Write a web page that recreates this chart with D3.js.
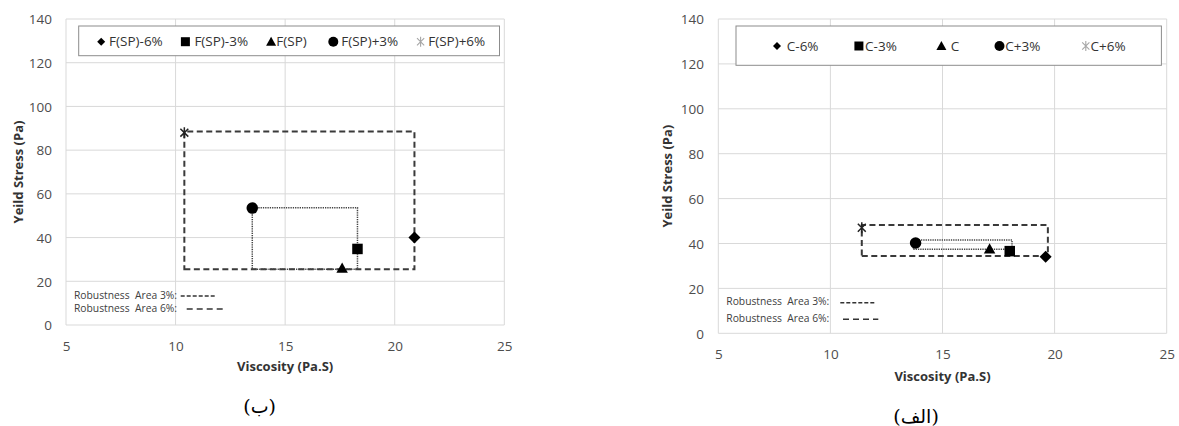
<!DOCTYPE html>
<html><head><meta charset="utf-8">
<script src="https://cdn.jsdelivr.net/npm/d3@7"></script>
<style>body{margin:0;background:#fff} svg{display:block}</style>
</head><body><svg id="c" width="1179" height="426"></svg>
<script>
// ---------- data ----------
const xTicks = [5, 10, 15, 20, 25];
const yTicks = [0, 20, 40, 60, 80, 100, 120, 140];

// chart (ب)
const namesB = ["F(SP)-6%", "F(SP)-3%", "F(SP)", "F(SP)+3%", "F(SP)+6%"];
const viscB  = [20.9, 18.3, 17.6, 13.5, 10.4];
const yieldB = [40, 34.8, 26, 53.5, 88];
const area3B = [13.5, 18.3, 25.5, 53.6];   // [xmin, xmax, ymin, ymax]
const area6B = [10.4, 20.9, 25.5, 88.5];

// chart (الف)
const namesA = ["C-6%", "C-3%", "C", "C+3%", "C+6%"];
const viscA  = [19.6, 18.0, 17.1, 13.8, 11.4];
const yieldA = [34.1, 36.6, 37.6, 40.2, 47];
const area3A = [13.7, 18.1, 37.4, 41.6];
const area6A = [11.4, 19.7, 34.4, 48.2];

const markerTypes = ["diamond", "square", "triangle", "circle", "star"];
const areaLabels = ["Robustness  Area 3%:", "Robustness  Area 6%:"];
const xTitle = "Viscosity (Pa.S)";
const yTitle = "Yeild Stress (Pa)";
const captions = ["(ب)", "(الف)"];

// ---------- symbols (size = marker width in px) ----------
const SYM = {
  diamond: {draw(c, w){const r=w/2; c.moveTo(0,-r); c.lineTo(r,0); c.lineTo(0,r); c.lineTo(-r,0); c.closePath();}},
  square: {draw(c, w){const r=w/2; c.moveTo(-r,-r); c.lineTo(r,-r); c.lineTo(r,r); c.lineTo(-r,r); c.closePath();}},
  triangle: {draw(c, w){const r=w/2; c.moveTo(0,-r); c.lineTo(r,r*0.8); c.lineTo(-r,r*0.8); c.closePath();}},
  circle: {draw(c, w){const r=w/2; c.moveTo(r,0); c.arc(0,0,r,0,2*Math.PI); c.closePath();}},
  star: {draw(c, w){const r=w/2, k=r*0.72; c.moveTo(-k,-k); c.lineTo(k,k); c.moveTo(-k,k); c.lineTo(k,-k); c.moveTo(0,-r); c.lineTo(0,r);}}
};
const chartSizes  = {diamond: 12, square: 10.5, triangle: 11.5, circle: 11.5, star: 11};
const legendSizes = {diamond: 8, square: 9, triangle: 10, circle: 10, star: 10};

const FONT = "'Open Sans', 'Noto Sans', sans-serif";
const svg = d3.select("#c");

function drawChart(cfg) {
  const x = d3.scaleLinear().domain([5, 25]).range([cfg.x0, cfg.x1]);
  const y = d3.scaleLinear().domain([0, 140]).range([cfg.y0, cfg.y1]);
  const g = svg.append("g");

  // gridlines
  g.selectAll(".gx").data(xTicks).join("line")
    .attr("x1", d => x(d)).attr("x2", d => x(d))
    .attr("y1", y(0)).attr("y2", y(140))
    .attr("stroke", "#d9d9d9").attr("stroke-width", 1);
  g.selectAll(".gy").data(yTicks).join("line")
    .attr("x1", x(5)).attr("x2", x(25))
    .attr("y1", d => y(d)).attr("y2", d => y(d))
    .attr("stroke", "#d9d9d9").attr("stroke-width", 1);

  // axes
  const ya = g.append("g").attr("transform", `translate(${x(5)},0)`)
    .call(d3.axisLeft(y).tickValues(yTicks).tickSize(0).tickPadding(cfg.x0 - cfg.yLabelX));
  ya.select(".domain").remove();
  ya.selectAll("text").attr("font-family", FONT).attr("font-size", 13.5).attr("fill", "#4d4d4d").attr("dy", "0.35em");

  const xa = g.append("g").attr("transform", `translate(0,${y(0)})`)
    .call(d3.axisBottom(x).tickValues(xTicks).tickSize(0));
  xa.select(".domain").remove();
  xa.selectAll("text").attr("font-family", FONT).attr("font-size", 13.5).attr("fill", "#4d4d4d")
    .attr("y", cfg.xLabelY - cfg.y0).attr("dy", "0.35em");

  // titles
  g.append("text").attr("x", (cfg.x0 + cfg.x1) / 2).attr("y", cfg.xTitleY).attr("dy", "0.35em")
    .attr("text-anchor", "middle").attr("font-family", FONT).attr("font-size", 13)
    .attr("font-weight", "bold").attr("fill", "#333").text(xTitle);
  g.append("text").attr("transform", `translate(${cfg.yTitleX},${(cfg.y0 + cfg.y1) / 2}) rotate(-90)`)
    .attr("dy", "0.35em").attr("text-anchor", "middle").attr("font-family", FONT).attr("font-size", 13)
    .attr("font-weight", "bold").attr("fill", "#333").text(yTitle);

  // robustness areas
  const rect = a => `M${x(a[0])},${y(a[2])}H${x(a[1])}V${y(a[3])}H${x(a[0])}Z`;
  g.append("path").attr("d", rect(cfg.area6)).attr("fill", "none")
    .attr("stroke", "#3a3a3a").attr("stroke-width", 2).attr("stroke-dasharray", "6,3.5");
  g.append("path").attr("d", rect(cfg.area3)).attr("fill", "none")
    .attr("stroke", "#444").attr("stroke-width", 1.5).attr("stroke-dasharray", "1.3,1");

  // points
  const pts = cfg.visc.map((v, i) => ({x: v, y: cfg.yield[i], t: markerTypes[i]}));
  g.selectAll(".pt").data(pts).join("path")
    .attr("transform", d => `translate(${x(d.x)},${y(d.y)})`)
    .attr("d", d => d3.symbol().type(SYM[d.t]).size(chartSizes[d.t])())
    .attr("fill", d => d.t === "star" ? "none" : "#000")
    .attr("stroke", d => d.t === "star" ? "#222" : "none")
    .attr("stroke-width", 1.5);

  // legend
  const L = cfg.legend;
  g.append("rect").attr("x", L.x).attr("y", L.y).attr("width", L.w).attr("height", L.h)
    .attr("fill", "#fff").attr("stroke", "#8c8c8c").attr("stroke-width", 1);
  const li = g.selectAll(".li").data(cfg.names).join("g");
  li.append("path")
    .attr("transform", (d, i) => `translate(${L.mx[i]},${L.cy})`)
    .attr("d", (d, i) => d3.symbol().type(SYM[markerTypes[i]]).size(legendSizes[markerTypes[i]])())
    .attr("fill", (d, i) => markerTypes[i] === "star" ? "none" : "#000")
    .attr("stroke", (d, i) => markerTypes[i] === "star" ? "#a6a6a6" : "none")
    .attr("stroke-width", 1.1);
  li.append("text").attr("x", (d, i) => L.tx[i]).attr("y", L.cy).attr("dy", "0.35em")
    .attr("font-family", FONT).attr("font-size", 13.5).attr("fill", "#333").text(d => d);

  // robustness note
  const N = cfg.note;
  const dashes = ["4,2", "6,4"];
  areaLabels.forEach((t, i) => {
    g.append("text").attr("x", N.x).attr("y", N.ys[i]).attr("dy", "0.35em")
      .attr("font-family", FONT).attr("font-size", 10.3).attr("fill", "#404040").attr("xml:space", "preserve").text(t);
    g.append("line").attr("x1", N.lines[i][0]).attr("x2", N.lines[i][1])
      .attr("y1", N.ys[i] + 1).attr("y2", N.ys[i] + 1)
      .attr("stroke", "#333").attr("stroke-width", 1.5).attr("stroke-dasharray", dashes[i]);
  });

  // caption
  g.append("text").attr("x", cfg.cap.x).attr("y", cfg.cap.y).attr("dy", "0.35em")
    .attr("text-anchor", "middle").attr("font-family", "'DejaVu Serif', 'DejaVu Sans', serif")
    .attr("font-size", 19).attr("fill", "#000").text(cfg.cap.t);
}

drawChart({
  x0: 66, x1: 504.3, y0: 325, y1: 19,
  yLabelX: 52, xLabelY: 346, xTitleY: 366, yTitleX: 18,
  names: namesB, visc: viscB, yield: yieldB, area3: area3B, area6: area6B,
  legend: {x: 78.7, y: 26, w: 420.8, h: 29.7, cy: 41.7,
           mx: [101.2, 185.4, 271.1, 333.3, 420.6], tx: [109.1, 194.4, 276.3, 341.2, 428.2]},
  note: {x: 74, ys: [295, 308], lines: [[180.7, 216.7], [186.7, 222.7]]},
  cap: {x: 259.6, y: 406, t: captions[0]}
});

drawChart({
  x0: 718.3, x1: 1166.7, y0: 333.3, y1: 19,
  yLabelX: 704, xLabelY: 354.3, xTitleY: 376.7, yTitleX: 667.6,
  names: namesA, visc: viscA, yield: yieldA, area3: area3A, area6: area6A,
  legend: {x: 736, y: 26, w: 425.4, h: 39.3, cy: 46,
           mx: [777, 858.9, 941.4, 999.5, 1085.8], tx: [786.8, 865.1, 950.8, 1005.3, 1090.6]},
  note: {x: 726.3, ys: [301.7, 318.3], lines: [[840.3, 874.8], [843, 878.3]]},
  cap: {x: 916, y: 416, t: captions[1]}
});
</script>
</body></html>
